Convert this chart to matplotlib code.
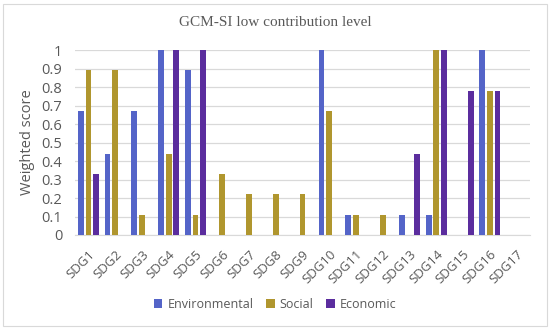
import matplotlib
matplotlib.use("Agg")
import matplotlib.pyplot as plt
import numpy as np
from matplotlib.patches import Rectangle

categories = [f"SDG{i}" for i in range(1, 18)]
environmental = [0.67, 0.44, 0.67, 1.0, 0.89, 0, 0, 0, 0, 1.0, 0.11, 0, 0.11, 0.11, 0, 1.0, 0]
social = [0.89, 0.89, 0.11, 0.44, 0.11, 0.33, 0.22, 0.22, 0.22, 0.67, 0.11, 0.11, 0, 1.0, 0, 0.78, 0]
economic = [0.33, 0, 0, 1.0, 1.0, 0, 0, 0, 0, 0, 0, 0, 0.44, 1.0, 0.78, 0.78, 0]
series_names = ["Environmental", "Social", "Economic"]
colors = ["#5464C8", "#B0962E", "#5B2D9E"]
yticks = [0, 0.1, 0.2, 0.3, 0.4, 0.5, 0.6, 0.7, 0.8, 0.9, 1.0]
ytick_labels = ["0", "0.1", "0.2", "0.3", "0.4", "0.5", "0.6", "0.7", "0.8", "0.9", "1"]

fig = plt.figure(figsize=(5.5, 3.3), dpi=100)
ax = fig.add_axes([75/550, 1 - 235/330, 455/550, 185/330])

x = np.arange(len(categories))
spacing = 0.287
width = 0.215
for i, (vals, name, c) in enumerate(zip([environmental, social, economic], series_names, colors)):
    ax.bar(x + (i - 1) * spacing, vals, width=width, color=c, label=name, zorder=3)

ax.set_xlim(-0.5, len(categories) - 0.5)
ax.set_ylim(0, 1.0)
ax.set_yticks(yticks)
ax.set_yticklabels(ytick_labels)
ax.yaxis.grid(True, color="#D9D9D9", linewidth=0.9, zorder=0)
ax.set_axisbelow(True)
for s in ["top", "right", "left"]:
    ax.spines[s].set_visible(False)
ax.spines["bottom"].set_color("#D9D9D9")
ax.tick_params(axis="y", length=0, labelsize=10.5, colors="#595959", pad=9)
ax.tick_params(axis="x", length=0, labelsize=9.5, colors="#595959", pad=9)
ax.set_xticks(x)
ax.set_xticklabels(categories, rotation=45, ha="right", rotation_mode="anchor", fontfamily="Open Sans")
for lab in ax.get_yticklabels():
    lab.set_fontfamily("Open Sans")

ax.set_ylabel("Weighted score", fontsize=10.5, color="#595959", fontfamily="Open Sans", labelpad=5)
fig.text(0.5, 1 - 23/330, "GCM-SI low contribution level", ha="center", va="center",
         fontsize=11, color="#595959", fontfamily="Liberation Serif")

leg = fig.legend(loc="center", bbox_to_anchor=(0.5, 1 - 304/330), ncol=3, frameon=False,
                 handlelength=0.7, handleheight=0.7, columnspacing=1.0,
                 handletextpad=0.4, prop={"family": "Open Sans", "size": 9})
for t in leg.get_texts():
    t.set_color("#595959")

fig.patches.append(Rectangle((3/550, 4/330), 544/550, 322/330, transform=fig.transFigure,
                             fill=False, edgecolor="#D9D9D9", linewidth=0.8))

fig.savefig("out.png", dpi=100)
